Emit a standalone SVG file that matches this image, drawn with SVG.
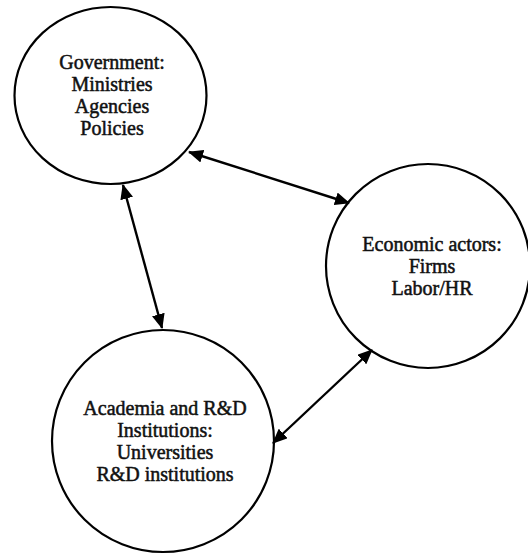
<svg xmlns="http://www.w3.org/2000/svg" width="528" height="555" viewBox="0 0 528 555">
<style>
.node{fill:#fff;stroke:#000;stroke-width:2.2}
.lbl{font-family:"Liberation Serif","Times New Roman",serif;font-size:20px;fill:#111;stroke:#111;stroke-width:0.5;text-anchor:middle}
.conn{stroke:#000;stroke-width:2.4;fill:none;marker-start:url(#ah);marker-end:url(#ah)}
</style>
<defs>
<marker id="ah" viewBox="0 0 15 13" refX="14" refY="6.5" markerWidth="15" markerHeight="13" markerUnits="userSpaceOnUse" orient="auto-start-reverse">
<path d="M0,0 L15,6.5 L0,13 z" fill="#000"/>
</marker>
</defs>
<rect width="528" height="555" fill="#fff"/>
<g id="government">
<ellipse class="node" cx="110.5" cy="95.5" rx="96" ry="88.5"/>
<text class="lbl" x="112" y="69">Government:</text>
<text class="lbl" x="112" y="91">Ministries</text>
<text class="lbl" x="112" y="113">Agencies</text>
<text class="lbl" x="112" y="135">Policies</text>
</g>
<g id="economic">
<circle class="node" cx="428" cy="266" r="102"/>
<text class="lbl" x="432" y="251">Economic actors:</text>
<text class="lbl" x="432" y="273">Firms</text>
<text class="lbl" x="432" y="295">Labor/HR</text>
</g>
<g id="academia">
<circle class="node" cx="163" cy="441" r="111"/>
<text class="lbl" x="165" y="415">Academia and R&amp;D</text>
<text class="lbl" x="165" y="437">Institutions:</text>
<text class="lbl" x="165" y="459">Universities</text>
<text class="lbl" x="165" y="481">R&amp;D institutions</text>
</g>
<g id="connectors">
<line class="conn" x1="189" y1="152" x2="349" y2="203"/>
<line class="conn" x1="123" y1="185" x2="162" y2="328"/>
<line class="conn" x1="372" y1="350" x2="273" y2="443"/>
</g>
</svg>
